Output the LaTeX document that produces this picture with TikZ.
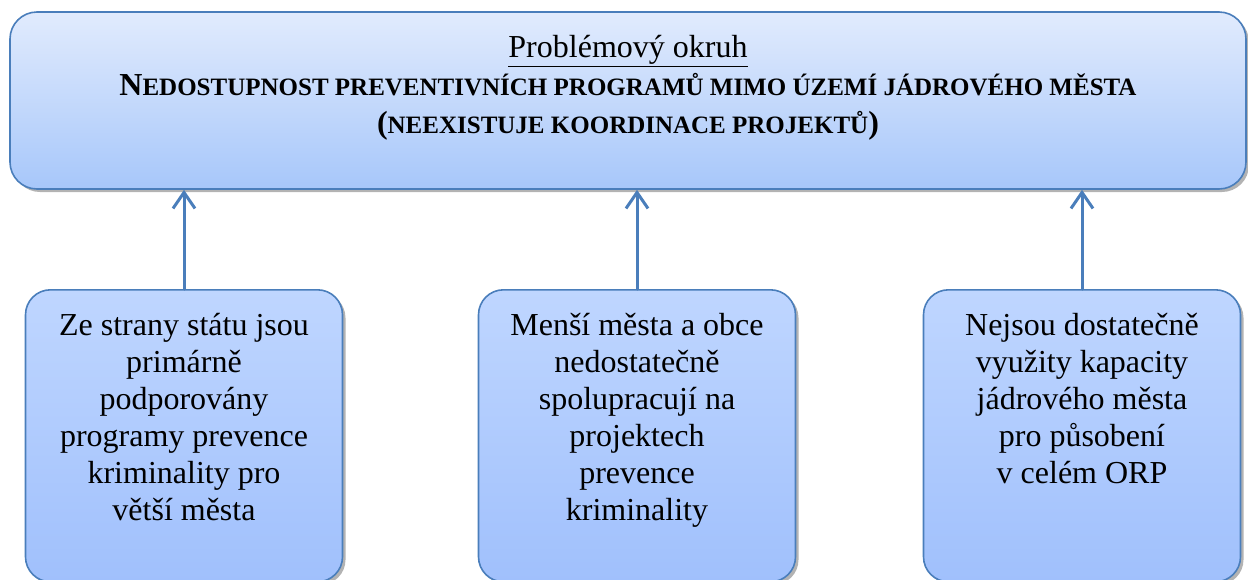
\documentclass[tikz,border=0pt]{standalone}
\usepackage{fontspec}
\setmainfont{Liberation Serif}
\usepackage{xcolor}
\usepackage{tikz}
\usetikzlibrary{arrows.meta,positioning,shadows}
\definecolor{boxline}{HTML}{4A7EBB}
\definecolor{probtop}{HTML}{E1EBFD}
\definecolor{probbottom}{HTML}{A7C7FA}
\definecolor{causetop}{HTML}{BFD6FF}
\definecolor{causebottom}{HTML}{A0C0FC}
\tikzset{
    every picture/.style={line cap=round,line join=round},
    problembox/.style={draw=boxline,line width=1.6pt,rounded corners=27pt,
      top color=probtop,bottom color=probbottom,
      minimum width=1236pt,minimum height=177pt,inner sep=0pt,
      drop shadow={shadow xshift=3pt,shadow yshift=-3pt,fill=black!50,opacity=.6}},
    causebox/.style={draw=boxline,line width=1.6pt,rounded corners=25pt,
      top color=causetop,bottom color=causebottom,anchor=north,
      minimum width=317pt,minimum height=292pt,inner sep=0pt,
      drop shadow={shadow xshift=3pt,shadow yshift=-3pt,fill=black!50,opacity=.6}},
    causearrow/.style={-{Straight Barb[length=16pt,width=22pt]},draw=boxline,
      line width=3pt}
}
\newcommand{\sk}[1]{{\fontsize{25}{37}\selectfont #1}}

\begin{document}
\begin{tikzpicture}[x=1pt,y=-1pt,font=\fontsize{32}{37}\selectfont]
  \useasboundingbox (0,0) rectangle (1248,579);
  \node[problembox] (problem) at (628,100.5) {\parbox[c][137pt][t]{1220pt}{\centering\strut
    \underline{Problémový okruh}\\[1pt]
    \textbf{N\sk{EDOSTUPNOST PREVENTIVNÍCH PROGRAMŮ MIMO ÚZEMÍ JÁDROVÉHO MĚSTA}}\\[1pt]
    \textbf{(\sk{NEEXISTUJE KOORDINACE PROJEKTŮ})}}};
  \node[causebox] (cause1) at (184,289) {\parbox[c][252pt][t]{300pt}{\centering\strut
    Ze strany státu jsou\\ primárně\\ podporovány\\ programy prevence\\ kriminality pro\\ větší města}};
  \node[causebox] (cause2) at (637,289) {\parbox[c][252pt][t]{300pt}{\centering\strut
    Menší města a obce\\ nedostatečně\\ spolupracují na\\ projektech\\ prevence\\ kriminality}};
  \node[causebox] (cause3) at (1082,289) {\parbox[c][252pt][t]{300pt}{\centering\strut
    Nejsou dostatečně\\ využity kapacity\\ jádrového města\\ pro působení\\ v celém ORP}};
  \foreach \n in {1,2,3}
    \draw[causearrow] (cause\n.north) -- (cause\n.north |- problem.south);
\end{tikzpicture}
\end{document}
